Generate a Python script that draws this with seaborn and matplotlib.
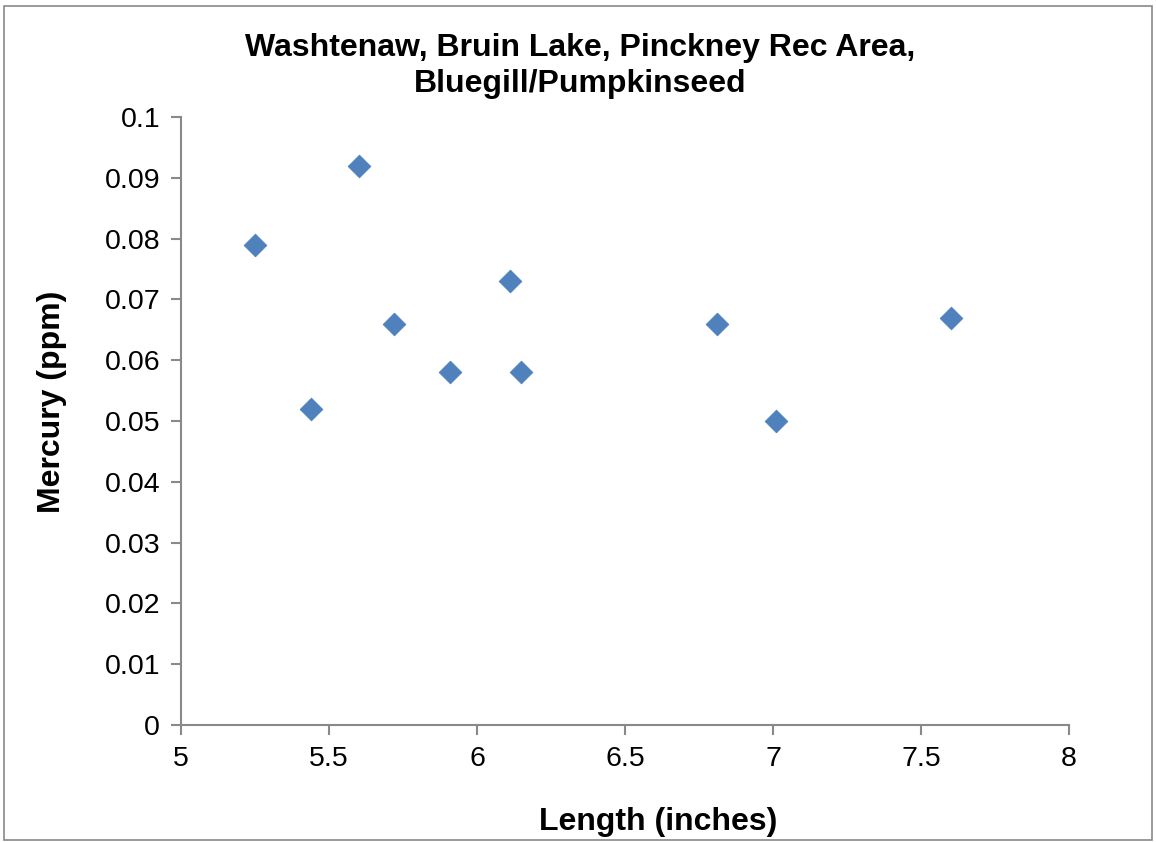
import matplotlib
matplotlib.use("Agg")
import matplotlib.pyplot as plt
from matplotlib.patches import Rectangle
import seaborn as sns
import pandas as pd

length = [5.25, 5.60, 5.44, 5.72, 5.91, 6.11, 6.15, 6.81, 7.01, 7.60]
mercury = [0.079, 0.092, 0.052, 0.066, 0.058, 0.073, 0.058, 0.066, 0.050, 0.067]
x_ticks = [5, 5.5, 6, 6.5, 7, 7.5, 8]
y_ticks = [0, 0.01, 0.02, 0.03, 0.04, 0.05, 0.06, 0.07, 0.08, 0.09, 0.1]
title = "Washtenaw, Bruin Lake, Pinckney Rec Area,\nBluegill/Pumpkinseed"

sns.set_style("white")
plt.rcParams['font.family'] = ['Liberation Sans', 'DejaVu Sans']
plt.rcParams['text.color'] = 'black'
plt.rcParams['axes.labelcolor'] = 'black'

df = pd.DataFrame({"Length": length, "Mercury": mercury})

W, H = 1156, 842
L, R, B, T = 181, 1069, 725, 117
fig = plt.figure(figsize=(W/100, H/100), dpi=100)
ax = fig.add_axes([L/W, 1 - B/H, (R-L)/W, (B-T)/H])

sns.scatterplot(data=df, x="Length", y="Mercury", ax=ax, marker="D", s=135,
                color="#4F81BD", edgecolor="#4A7EBB", linewidth=0.5, zorder=3)

ax.set_xlim(5, 8)
ax.set_ylim(0, 0.1)
ax.set_xticks(x_ticks)
ax.set_xticklabels([f"{t:g}" for t in x_ticks])
ax.set_yticks(y_ticks)
ax.set_yticklabels([f"{t:g}" for t in y_ticks])

for side in ["top", "right"]:
    ax.spines[side].set_visible(False)
for side in ["left", "bottom"]:
    ax.spines[side].set_color("#898989")
    ax.spines[side].set_linewidth(1.5)

ax.tick_params(axis="both", direction="out", length=7, width=1.5, color="#898989",
               labelsize=20.5, labelcolor="black", pad=6)
ax.tick_params(axis="y", left=True, pad=8)
ax.tick_params(axis="x", bottom=True, pad=8)

ax.set_xlabel("Length (inches)", fontsize=23, fontweight="bold", color="black", va="center")
ax.xaxis.set_label_coords((658 - L) / (R - L), (B - 822) / (B - T))
ax.set_ylabel("Mercury (ppm)", fontsize=23, fontweight="bold", color="black", va="center")
ax.yaxis.set_label_coords((52 - L) / (R - L), (B - 402) / (B - T))

fig.text(580/W, 1 - 66/H, title, ha="center", va="center",
         fontsize=23, fontweight="bold", linespacing=1.25, color="black")

fig.patches.append(Rectangle((4/W, 2/H), 1148/W, 834/H, transform=fig.transFigure,
                             fill=False, edgecolor="#898989", linewidth=1.2))

fig.savefig("out.png", dpi=100)
